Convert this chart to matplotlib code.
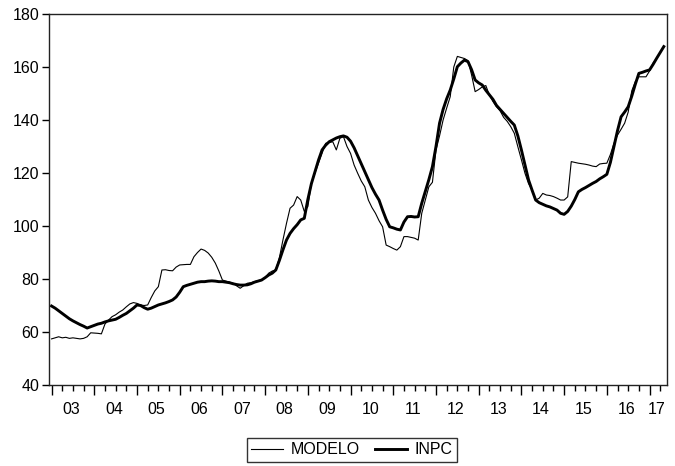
import numpy as np
import matplotlib
matplotlib.use("Agg")
import matplotlib.pyplot as plt
from matplotlib.ticker import MultipleLocator, FixedLocator
import matplotlib.transforms as mtransforms

plt.rcParams['font.family'] = ['Liberation Sans', 'DejaVu Sans']

start_year = 2003
year_labels = ["03", "04", "05", "06", "07", "08", "09", "10", "11", "12", "13", "14", "15", "16", "17"]

# Monthly INPC, 2003M01 .. 2017M05
inpc = [
    69.8, 69.0, 68.0, 67.0, 66.0, 65.0, 64.2, 63.5, 62.8, 62.2, 61.5, 62.0,
    62.5, 63.0, 63.3, 63.8, 64.2, 64.5, 64.8, 65.5, 66.3, 67.0, 68.0, 69.0,
    70.2, 70.0, 69.2, 68.6, 69.0, 69.6, 70.2, 70.6, 71.0, 71.5, 72.1, 73.2,
    75.0, 77.1, 77.6, 78.0, 78.4, 78.8, 79.0, 79.0, 79.2, 79.3, 79.2, 79.0,
    79.0, 78.8, 78.6, 78.2, 77.9, 77.7, 77.7, 77.8, 78.2, 78.8, 79.2, 79.6,
    80.5, 81.5, 82.2, 83.4, 87.0, 91.0, 94.7, 97.2, 99.0, 100.5, 102.3, 102.9,
    110.0, 116.0, 120.5, 124.9, 128.7, 130.5, 131.8, 132.5, 133.2, 133.7, 134.0, 133.5,
    132.0, 129.5, 126.5, 123.5, 120.5, 117.4, 114.5, 112.0, 109.8, 106.0, 102.5, 99.7,
    99.3, 98.8, 98.5, 101.5, 103.5, 103.6, 103.4, 103.5, 108.6, 113.0, 117.5, 122.4,
    130.0, 138.8, 144.0, 148.0, 151.3, 155.5, 160.1, 161.5, 162.6, 162.0, 159.0, 155.1,
    154.0, 153.2, 151.2, 149.5, 147.8, 145.5, 144.0, 142.5, 141.0, 139.5, 138.1, 134.0,
    128.7, 123.0, 117.4, 113.5, 109.8, 108.8, 108.2, 107.6, 107.2, 106.6, 106.0, 104.8,
    104.4, 105.5, 107.5, 110.0, 112.9, 113.8, 114.5, 115.3, 116.1, 116.8, 117.8, 118.6,
    119.5, 124.0, 130.0, 136.0, 141.2, 143.0, 145.0, 149.0, 153.5, 157.6, 158.0, 158.5,
    158.9, 161.0, 163.3, 165.5, 167.7,
]

# Monthly MODELO, 2003M01 .. 2017M05
modelo = [
    57.4, 57.8, 58.2, 57.8, 58.0, 57.6, 57.8, 57.6, 57.4, 57.6, 58.2, 59.7,
    59.6, 59.5, 59.3, 63.0, 64.5, 65.8, 66.5, 67.5, 68.3, 69.5, 70.6, 71.1,
    70.8, 70.2, 70.0, 70.2, 73.0, 75.5, 77.1, 83.4, 83.5, 83.2, 83.1, 84.5,
    85.3, 85.4, 85.5, 85.5, 88.4, 90.0, 91.3, 90.8, 89.8, 88.2, 86.0, 83.0,
    79.6, 79.2, 78.8, 78.4, 77.4, 76.5, 77.5, 78.4, 78.6, 79.0, 79.4, 79.6,
    80.5, 82.2, 83.0, 83.4, 88.0, 94.7, 101.0, 106.7, 107.9, 111.1, 109.8, 105.5,
    107.3, 116.1, 120.0, 123.7, 127.4, 131.2, 131.5, 131.8, 128.7, 133.1, 133.7, 130.0,
    127.4, 123.0, 119.9, 117.0, 114.8, 109.8, 107.0, 104.8, 102.0, 99.7, 92.8, 92.2,
    91.5, 90.9, 92.2, 96.0, 96.0, 95.7, 95.4, 94.7, 104.8, 109.8, 114.8, 116.5,
    128.7, 134.0, 140.0, 144.5, 148.8, 160.0, 164.0, 163.6, 163.2, 162.4, 157.0, 150.7,
    151.5, 152.5, 153.0, 149.4, 147.0, 145.0, 143.5, 141.0, 139.5, 137.5, 135.0, 129.9,
    125.0, 119.9, 116.0, 113.6, 109.8, 110.5, 112.3, 111.7, 111.5, 111.1, 110.5, 109.8,
    109.8, 111.0, 124.3, 124.0, 123.7, 123.5, 123.3, 123.0, 122.6, 122.4, 123.4, 123.6,
    123.7, 127.0, 131.2, 134.3, 136.5, 138.8, 143.0, 151.0, 154.5, 156.3, 156.3, 156.3,
    158.5, 161.5, 163.3, 165.5, 167.7,
]

n = len(inpc)
t = start_year + np.arange(n) / 12.0

fig = plt.figure(figsize=(6.75, 4.66), dpi=100)
ax = fig.add_axes([49 / 675, 1 - 385 / 466, (667 - 49) / 675, (385 - 14) / 466])

l1, = ax.plot(t, modelo, color="black", lw=0.8, label="MODELO")
l2, = ax.plot(t, inpc, color="black", lw=2.1, label="INPC")

ax.set_ylim(40, 180)
ax.set_xlim(start_year - 0.06, t[-1] + 0.075)
ax.yaxis.set_major_locator(MultipleLocator(20))
ax.tick_params(axis="y", direction="out", length=5, width=1, labelsize=11.5, pad=2, colors="black")

years = np.arange(start_year, start_year + len(year_labels))
ax.xaxis.set_major_locator(FixedLocator(years))
quarters = [y + q / 4 for y in years for q in (1, 2, 3) if y + q / 4 <= t[-1] + 0.07]
ax.xaxis.set_minor_locator(FixedLocator(quarters))
ax.tick_params(axis="x", which="major", direction="out", length=7, width=1, labelbottom=False)
ax.tick_params(axis="x", which="minor", direction="out", length=4, width=1)

trans = mtransforms.blended_transform_factory(ax.transData, ax.transAxes)
for i, lab in enumerate(year_labels):
    y0 = years[i]
    idx = np.where((t >= y0) & (t < y0 + 1))[0]
    xc = t[idx].mean()
    ax.text(xc, -0.046, lab, transform=trans, ha="center", va="top", fontsize=11.5)

for s in ax.spines.values():
    s.set_linewidth(1.0)
    s.set_color("#222222")

leg = fig.legend(handles=[l1, l2], loc="center", bbox_to_anchor=(352 / 675, 1 - 450 / 466),
                 ncol=2, frameon=True, fancybox=False, edgecolor="black", fontsize=11.5,
                 handlelength=2.0, handletextpad=0.5, columnspacing=0.9, borderpad=0.3)
leg.get_frame().set_linewidth(1.0)

fig.savefig("out.png", dpi=100)
